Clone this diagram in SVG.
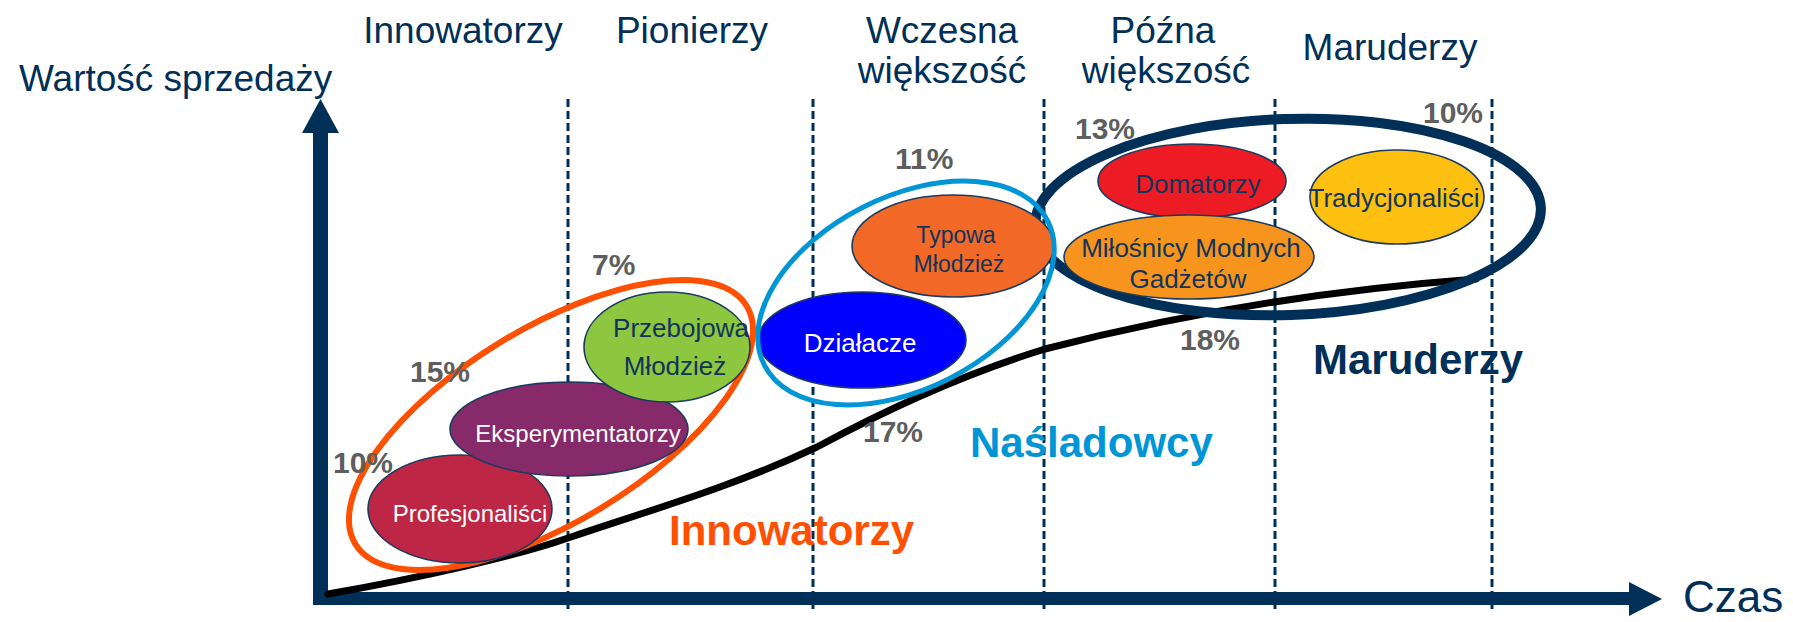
<svg xmlns="http://www.w3.org/2000/svg" width="1793" height="622" viewBox="0 0 1793 622">
<style>
text{font-family:"Liberation Sans",Arial,sans-serif}
.hdr{font-size:37px;fill:#003057}
.pct{font-size:30px;font-weight:bold;fill:#5E5E5E}
.node{stroke:#1C3A5E;stroke-width:1.6}
.nt{font-size:26px;fill:#12345C;text-anchor:middle}
.wt{fill:#FFFFFF}
.grp{font-size:42px;font-weight:bold}
.dash{stroke:#003057;stroke-width:3;stroke-dasharray:8 4;fill:none}
</style>
<rect width="1793" height="622" fill="#FFFFFF"/>
<g id="gridlines">
<line class="dash" x1="568" y1="99" x2="568" y2="609"/>
<line class="dash" x1="813" y1="99" x2="813" y2="609"/>
<line class="dash" x1="1044" y1="99" x2="1044" y2="609"/>
<line class="dash" x1="1275" y1="99" x2="1275" y2="609"/>
<line class="dash" x1="1492" y1="99" x2="1492" y2="609"/>
</g>
<g id="headers">
<text class="hdr" x="19" y="91">Wartość sprzedaży</text>
<text class="hdr" x="463" y="43" text-anchor="middle">Innowatorzy</text>
<text class="hdr" x="692" y="43" text-anchor="middle">Pionierzy</text>
<text class="hdr" x="942" y="43" text-anchor="middle">Wczesna</text>
<text class="hdr" x="942" y="83" text-anchor="middle">większość</text>
<text class="hdr" x="1163" y="43" text-anchor="middle">Późna</text>
<text class="hdr" x="1166" y="83" text-anchor="middle">większość</text>
<text class="hdr" x="1390" y="60" text-anchor="middle">Maruderzy</text>
<text class="hdr" x="1683" y="612" style="font-size:44px">Czas</text>
</g>
<g id="connectors">
<rect x="313" y="131" width="15" height="474" fill="#003057"/>
<polygon points="320.5,99 339,133 302,133" fill="#003057"/>
<rect x="313" y="592" width="1318" height="13" fill="#003057"/>
<polygon points="1662,599 1629,582 1629,616" fill="#003057"/>
<path d="M328,594 C420,578 520,555 568,538 C650,510 730,488 817,447 C880,413 960,375 1045,349 C1150,322 1300,292 1476,279" fill="none" stroke="#000000" stroke-width="7" stroke-linecap="round"/>
</g>
<g id="group-maruderzy">
<ellipse cx="1288" cy="217" rx="253" ry="98" transform="rotate(-2 1288 217)" fill="none" stroke="#003057" stroke-width="10"/>
<text class="grp" x="1313" y="374" fill="#003057">Maruderzy</text>
</g>
<g id="group-innowatorzy">
<ellipse cx="551" cy="425" rx="229" ry="97" transform="rotate(-31.3 551 425)" fill="none" stroke="#FF4F00" stroke-width="6"/>
<text class="grp" x="669" y="545" fill="#FF4F00">Innowatorzy</text>
</g>
<g id="node-profesjonalisci">
<ellipse class="node" cx="460" cy="509" rx="92" ry="54" fill="#BE2645"/>
<text class="nt wt" x="470" y="522" style="font-size:24px">Profesjonaliści</text>
</g>
<g id="node-eksperymentatorzy">
<ellipse class="node" cx="569" cy="429" rx="119" ry="47" fill="#862A6A"/>
<text class="nt wt" x="578" y="442" style="font-size:24px">Eksperymentatorzy</text>
</g>
<g id="node-przebojowa">
<ellipse class="node" cx="667" cy="347" rx="83" ry="55" fill="#8DC63F"/>
<text class="nt" x="681" y="337">Przebojowa</text>
<text class="nt" x="675" y="375">Młodzież</text>
</g>
<g id="node-dzialacze">
<ellipse class="node" cx="862" cy="340" rx="104" ry="48" fill="#0000FF"/>
<text class="nt wt" x="860" y="352">Działacze</text>
</g>
<g id="node-typowa">
<ellipse class="node" cx="953" cy="246" rx="101" ry="51" fill="#F26826"/>
<text class="nt" x="956" y="243" style="font-size:23px">Typowa</text>
<text class="nt" x="959" y="272" style="font-size:23px">Młodzież</text>
</g>
<g id="node-domatorzy">
<ellipse class="node" cx="1192" cy="181" rx="94" ry="37" fill="#ED1C24"/>
<text class="nt" x="1198" y="193">Domatorzy</text>
</g>
<g id="node-milosnicy">
<ellipse class="node" cx="1189" cy="257" rx="125" ry="42" fill="#F7941D"/>
<text class="nt" x="1191" y="257">Miłośnicy Modnych</text>
<text class="nt" x="1188" y="288">Gadżetów</text>
</g>
<g id="node-tradycjonalisci">
<ellipse class="node" cx="1397" cy="197" rx="87" ry="47" fill="#FDC010"/>
<text class="nt" x="1394" y="207">Tradycjonaliści</text>
</g>
<g id="group-nasladowcy">
<ellipse cx="906" cy="293" rx="159" ry="96" transform="rotate(-27 906 293)" fill="none" stroke="#0096D6" stroke-width="5"/>
<text class="grp" x="970" y="457" fill="#0096D6">Naśladowcy</text>
</g>
<g id="percentages">
<text class="pct" x="333" y="473">10%</text>
<text class="pct" x="410" y="382">15%</text>
<text class="pct" x="592" y="275">7%</text>
<text class="pct" x="895" y="169">11%</text>
<text class="pct" x="863" y="442">17%</text>
<text class="pct" x="1180" y="350">18%</text>
<text class="pct" x="1075" y="139">13%</text>
<text class="pct" x="1423" y="123">10%</text>
</g>
</svg>
